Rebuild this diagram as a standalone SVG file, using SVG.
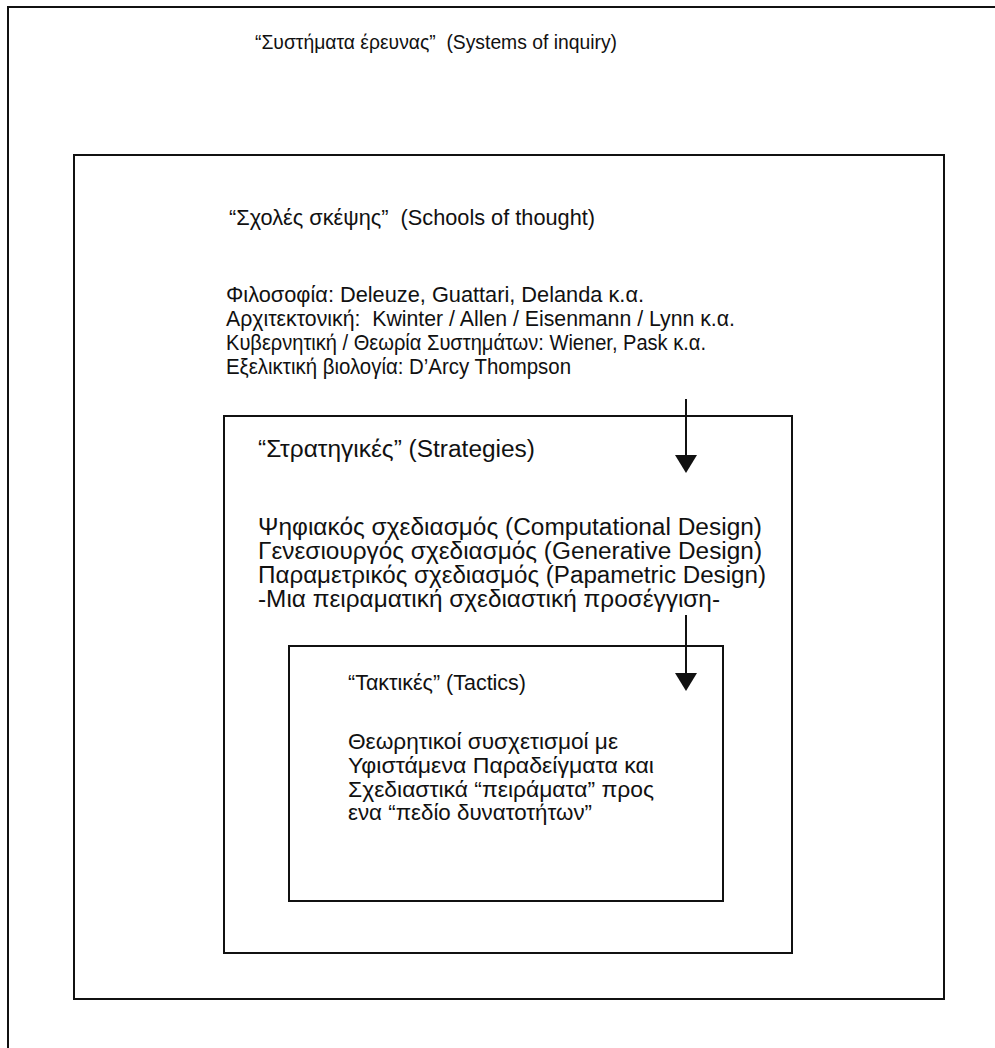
<svg xmlns="http://www.w3.org/2000/svg" width="995" height="1048" viewBox="0 0 995 1048">
  <style>
    .frame { fill: none; stroke: #111; stroke-width: 2; }
    .lbl { font-family: "Liberation Sans", Arial, sans-serif; font-size: 21.5px; fill: #111; }
    .head { font-size: 20px; }
    .strat { font-size: 23px; }
    .tact { font-size: 22.5px; }
    .conn { stroke: #111; stroke-width: 2; fill: none; }
  </style>
  <defs>
    <!-- solid triangular head, drawn along +x so orient="auto" turns it with the line -->
    <marker id="arrowhead" viewBox="0 0 18 22" refX="8" refY="11" markerWidth="18" markerHeight="22" markerUnits="userSpaceOnUse" orient="auto">
      <path d="M0,0 L18,11 L0,22 Z" fill="#111"/>
    </marker>
  </defs>
  <rect width="995" height="1048" fill="#fff"/>

  <!-- Systems of inquiry (outer frame, runs off the page right and bottom) -->
  <g id="systems">
    <path class="frame" d="M8,1048 L8,7 L995,7"/>
    <text class="lbl head" x="255" y="49" xml:space="preserve" textLength="362" lengthAdjust="spacingAndGlyphs">“Συστήματα έρευνας”  (Systems of inquiry)</text>
  </g>

  <!-- Schools of thought -->
  <g id="schools">
    <rect class="frame" x="74" y="155" width="870" height="844"/>
    <text class="lbl" x="229" y="225" xml:space="preserve" textLength="366" lengthAdjust="spacingAndGlyphs">“Σχολές σκέψης”  (Schools of thought)</text>
    <text class="lbl" x="226" y="302" textLength="418" lengthAdjust="spacingAndGlyphs">Φιλοσοφία: Deleuze, Guattari, Delanda κ.α.</text>
    <text class="lbl" x="226" y="326" xml:space="preserve" textLength="509" lengthAdjust="spacingAndGlyphs">Αρχιτεκτονική:  Kwinter / Allen / Eisenmann / Lynn κ.α.</text>
    <text class="lbl" x="226" y="350" textLength="480" lengthAdjust="spacingAndGlyphs">Κυβερνητική / Θεωρία Συστημάτων: Wiener, Pask κ.α.</text>
    <text class="lbl" x="226" y="374" textLength="345" lengthAdjust="spacingAndGlyphs">Εξελικτική βιολογία: D’Arcy Thompson</text>
  </g>

  <!-- Strategies -->
  <g id="strategies">
    <rect class="frame" x="224" y="416" width="568" height="537"/>
    <text class="lbl strat" x="258" y="457" textLength="277" lengthAdjust="spacingAndGlyphs">“Στρατηγικές” (Strategies)</text>
    <text class="lbl strat" x="258" y="535" textLength="504" lengthAdjust="spacingAndGlyphs">Ψηφιακός σχεδιασμός (Computational Design)</text>
    <text class="lbl strat" x="258" y="559" textLength="504" lengthAdjust="spacingAndGlyphs">Γενεσιουργός σχεδιασμός (Generative Design)</text>
    <text class="lbl strat" x="258" y="583" textLength="508" lengthAdjust="spacingAndGlyphs">Παραμετρικός σχεδιασμός (Papametric Design)</text>
    <text class="lbl strat" x="258" y="607" textLength="462" lengthAdjust="spacingAndGlyphs">-Μια πειραματική σχεδιαστική προσέγγιση-</text>
  </g>

  <!-- Tactics -->
  <g id="tactics">
    <rect class="frame" x="289" y="646" width="434" height="255"/>
    <text class="lbl tact" x="348" y="690" textLength="178" lengthAdjust="spacingAndGlyphs">“Τακτικές” (Tactics)</text>
    <text class="lbl tact" x="348" y="749" textLength="270" lengthAdjust="spacingAndGlyphs">Θεωρητικοί συσχετισμοί με</text>
    <text class="lbl tact" x="348" y="773" textLength="306" lengthAdjust="spacingAndGlyphs">Υφιστάμενα Παραδείγματα και</text>
    <text class="lbl tact" x="348" y="797" textLength="306" lengthAdjust="spacingAndGlyphs">Σχεδιαστικά “πειράματα” προς</text>
    <text class="lbl tact" x="348" y="820" textLength="244" lengthAdjust="spacingAndGlyphs">ενα “πεδίο δυνατοτήτων”</text>
  </g>

  <!-- Connectors -->
  <g id="connectors">
    <line class="conn" x1="686" y1="399" x2="686" y2="463" marker-end="url(#arrowhead)"/>
    <line class="conn" x1="686" y1="615" x2="686" y2="681" marker-end="url(#arrowhead)"/>
  </g>
</svg>
